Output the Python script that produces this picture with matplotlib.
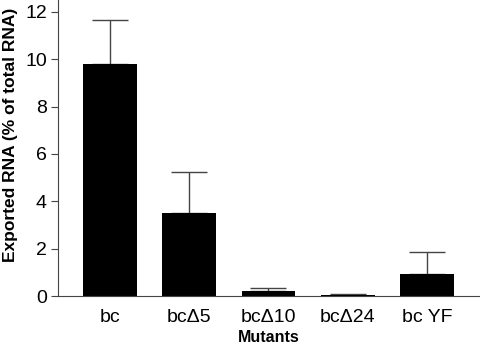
import matplotlib
matplotlib.use("Agg")
import matplotlib.pyplot as plt
import numpy as np

plt.rcParams['font.family'] = ['Liberation Sans', 'DejaVu Sans']

mutants = ['bc', 'bcΔ5', 'bcΔ10', 'bcΔ24', 'bc YF']
exported = [9.8, 3.5, 0.22, 0.05, 0.92]
err_upper = [1.85, 1.75, 0.10, 0.03, 0.94]

fig = plt.figure(figsize=(4.8, 3.44), dpi=100)
ax = fig.add_axes([0.121, 0.1395, 0.879, 0.8605])

x = np.arange(len(mutants))
ax.bar(x, exported, width=0.68, color='black', zorder=2)
ax.errorbar(x, exported, yerr=[np.zeros(len(exported)), err_upper], fmt='none',
            ecolor='#444444', elinewidth=1, capsize=13, capthick=1, zorder=1)

ax.set_xlim(-0.656, 4.67)
ax.set_ylim(0, 12.5)
ax.set_yticks([0, 2, 4, 6, 8, 10, 12])
ax.set_xticks(x)
ax.set_xticklabels(mutants, fontsize=14)
ax.tick_params(axis='y', labelsize=14, length=5, color='#444444', pad=3)
ax.tick_params(axis='x', length=0, pad=9)
ax.spines['top'].set_visible(False)
ax.spines['right'].set_visible(False)
ax.spines['left'].set_color('#444444')
ax.spines['bottom'].set_color('#444444')

ax.set_xlabel('Mutants', fontsize=11.5, fontweight='bold', labelpad=3)
ax.set_ylabel('Exported RNA (% of total RNA)', fontsize=12.5, fontweight='bold', labelpad=6)
ax.yaxis.set_label_coords(-0.095, 0.545)

fig.savefig('out.png', dpi=100)
